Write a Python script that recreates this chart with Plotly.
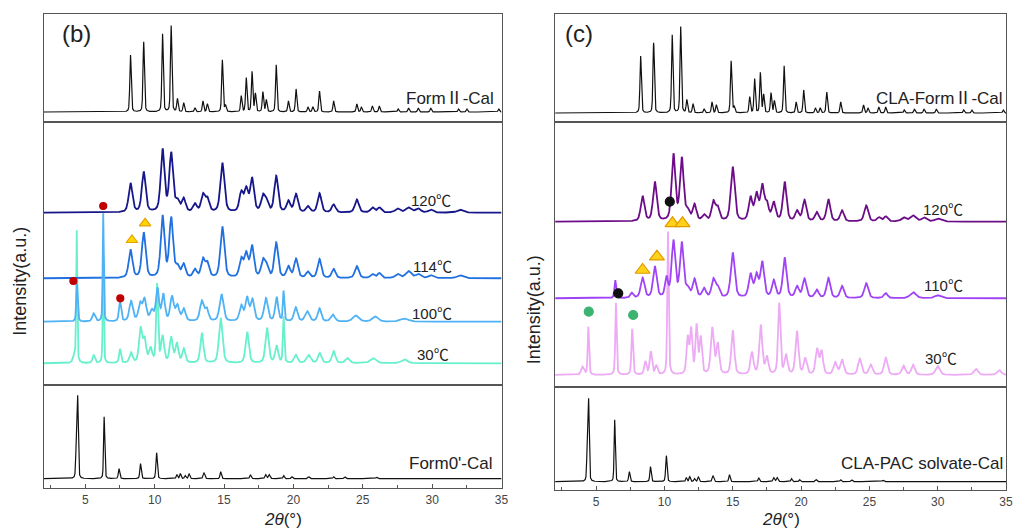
import numpy as np
import plotly.graph_objects as go

W, H = 1016, 529

# ---------------- DATA (2theta in degrees, intensity in a.u.) ----------------
# Calculated Form II pattern: (2theta, height, hwhm)
formII_cal = [
    (8.26, 57, 0.06), (9.21, 70, 0.06), (10.57, 78, 0.06), (11.19, 86, 0.06),
    (11.64, 13, 0.06), (12.09, 9, 0.06), (12.9, 4, 0.06), (13.48, 11, 0.06),
    (13.8, 8, 0.06), (14.88, 52, 0.06), (15.1, 6, 0.06), (16.24, 16, 0.06),
    (16.6, 34, 0.06), (17.02, 40, 0.06), (17.26, 18, 0.06), (17.8, 20, 0.06),
    (18.05, 12, 0.06), (18.76, 47, 0.06), (19.64, 11, 0.06), (20.19, 23, 0.06),
    (21.05, 5, 0.06), (21.4, 5, 0.06), (21.88, 21, 0.06), (22.9, 11, 0.06),
    (24.57, 8, 0.06), (24.9, 5, 0.06), (25.69, 6, 0.06), (26.19, 6, 0.06),
    (27.55, 3, 0.06), (28.3, 4, 0.06), (29.0, 4, 0.06), (29.9, 4, 0.06),
    (31.9, 3, 0.06), (32.5, 3, 0.06), (34.8, 3, 0.06),
]
# Calculated Form0' / CLA-PAC solvate pattern
form0_cal = [
    (4.35, 30, 0.05), (4.45, 80, 0.05), (6.36, 62, 0.05), (7.43, 10, 0.06),
    (8.98, 15, 0.06), (10.14, 26, 0.06), (11.6, 4, 0.06), (11.85, 5, 0.06),
    (12.2, 3, 0.06), (12.48, 5, 0.06), (13.55, 6, 0.07), (14.76, 7, 0.06),
    (16.9, 4, 0.06), (18.0, 4, 0.07), (18.25, 4, 0.07), (19.3, 3, 0.06),
    (19.9, 2, 0.06), (21.1, 2, 0.07), (22.9, 2, 0.06), (23.7, 2, 0.07),
    (26.0, 1.5, 0.07),
]

# Panel (b) experimental patterns
b_120 = [
    (8.26, 29, 0.16), (9.21, 40, 0.16), (10.57, 62, 0.16), (11.19, 58, 0.16),
    (11.64, 10, 0.16), (12.09, 13, 0.16), (12.9, 8, 0.16), (13.48, 17, 0.16),
    (13.8, 13, 0.16), (14.88, 49, 0.17), (16.24, 19, 0.16), (16.6, 22, 0.16),
    (17.02, 33, 0.16), (17.8, 15, 0.16), (18.05, 10, 0.16), (18.76, 36, 0.16),
    (19.64, 11, 0.16), (20.19, 18, 0.16), (21.05, 6, 0.16), (21.88, 19, 0.16),
    (22.9, 8, 0.16), (24.57, 13, 0.17), (25.69, 5, 0.16), (26.19, 5, 0.16),
    (27.5, 4, 0.2), (28.3, 5, 0.25), (29.0, 4, 0.2), (29.9, 3, 0.2), (32.0, 3, 0.25),
]
b_114 = [
    (8.26, 28, 0.16), (9.21, 45, 0.16), (10.57, 61, 0.16), (11.19, 59, 0.16),
    (11.64, 10, 0.16), (12.09, 13, 0.16), (12.9, 8, 0.16), (13.48, 18, 0.16),
    (13.8, 14, 0.16), (14.88, 51, 0.17), (16.24, 18, 0.16), (16.6, 23, 0.16),
    (17.02, 31, 0.16), (17.8, 16, 0.16), (18.05, 11, 0.16), (18.76, 35, 0.16),
    (19.64, 11, 0.16), (20.19, 19, 0.16), (21.05, 6, 0.16), (21.88, 19, 0.16),
    (22.9, 9, 0.16), (24.57, 12, 0.17), (25.69, 4, 0.16), (26.19, 5, 0.16),
    (27.5, 4, 0.2), (28.3, 7, 0.25), (29.0, 4, 0.2), (29.9, 3, 0.2), (32.0, 3, 0.25),
]
b_100 = [
    (4.4, 38, 0.06), (5.6, 8, 0.12), (6.29, 108, 0.045), (7.5, 20, 0.09),
    (8.3, 20, 0.15), (8.95, 17, 0.15), (9.27, 21, 0.15), (9.8, 10, 0.15),
    (10.2, 32, 0.13), (10.62, 26, 0.13), (11.25, 24, 0.15), (11.64, 15, 0.15),
    (12.1, 12, 0.15), (13.4, 20, 0.16), (13.75, 12, 0.15), (14.82, 27, 0.17),
    (16.24, 15, 0.15), (16.66, 23, 0.15), (17.05, 21, 0.15), (18.02, 23, 0.16),
    (18.79, 24, 0.13), (19.29, 30, 0.06), (20.17, 14, 0.15), (21.0, 10, 0.18),
    (21.88, 13, 0.15), (22.84, 7, 0.17), (24.5, 6, 0.25), (25.9, 5, 0.25),
    (28.0, 3, 0.35),
]
b_30 = [
    (4.2, 6, 0.12), (4.38, 132, 0.045), (5.6, 8, 0.1), (6.29, 100, 0.045),
    (7.5, 14, 0.08), (8.3, 10, 0.13), (8.98, 34, 0.13), (9.27, 23, 0.13),
    (9.7, 14, 0.13), (10.17, 78, 0.08), (10.57, 26, 0.13), (11.19, 25, 0.13),
    (11.6, 19, 0.13), (12.1, 14, 0.13), (13.4, 30, 0.13), (14.76, 45, 0.15),
    (16.67, 31, 0.14), (18.1, 35, 0.14), (18.79, 17, 0.13), (19.29, 46, 0.06),
    (20.17, 8, 0.15), (21.1, 8, 0.18), (21.9, 10, 0.15), (22.9, 12, 0.15),
    (23.9, 5, 0.18), (25.76, 5, 0.25), (28.0, 4, 0.25),
]

# Panel (c) experimental patterns
c_120 = [
    (8.4, 25, 0.16), (9.3, 39, 0.16), (10.66, 66, 0.16), (11.27, 62, 0.16),
    (11.7, 9, 0.16), (12.2, 16, 0.16), (12.9, 6, 0.16), (13.58, 19, 0.16),
    (13.9, 13, 0.16), (15.0, 54, 0.17), (16.3, 23, 0.16), (16.74, 26, 0.16),
    (17.16, 34, 0.16), (17.5, 16, 0.16), (18.0, 18, 0.16), (18.8, 39, 0.16),
    (19.71, 10, 0.16), (20.25, 21, 0.16), (21.15, 9, 0.16), (22.0, 22, 0.16),
    (23.0, 11, 0.16), (24.77, 16, 0.17), (25.7, 4, 0.16), (26.2, 5, 0.16),
    (27.5, 4, 0.2), (28.2, 6, 0.25), (29.0, 4, 0.2), (30.0, 3, 0.25),
]
c_110 = [
    (6.4, 18, 0.07), (7.6, 5, 0.12), (8.4, 20, 0.16), (9.3, 31, 0.16),
    (10.15, 19, 0.13), (10.66, 56, 0.16), (11.27, 54, 0.16), (11.7, 8, 0.16),
    (12.2, 18, 0.16), (12.9, 9, 0.16), (13.58, 18, 0.16), (13.9, 10, 0.16),
    (15.0, 45, 0.17), (16.3, 23, 0.16), (16.74, 22, 0.16), (17.16, 35, 0.16),
    (18.0, 17, 0.16), (18.8, 40, 0.16), (19.71, 11, 0.16), (20.25, 19, 0.16),
    (21.15, 8, 0.16), (22.0, 20, 0.16), (23.0, 12, 0.16), (24.77, 15, 0.17),
    (26.2, 5, 0.16), (28.2, 6, 0.25), (30.0, 3, 0.25),
]
c_30 = [
    (4.0, 8, 0.12), (4.43, 48, 0.06), (6.45, 72, 0.06), (7.64, 46, 0.07),
    (8.6, 13, 0.1), (9.0, 23, 0.1), (9.4, 9, 0.1), (10.26, 143, 0.06),
    (11.7, 36, 0.1), (11.95, 44, 0.1), (12.35, 48, 0.1), (12.65, 36, 0.1),
    (13.5, 46, 0.13), (13.9, 30, 0.13), (15.0, 44, 0.13), (16.4, 22, 0.13),
    (17.05, 49, 0.13), (17.5, 17, 0.13), (18.4, 71, 0.1), (18.9, 19, 0.13),
    (19.7, 43, 0.13), (20.3, 16, 0.13), (21.17, 25, 0.13), (21.5, 23, 0.13),
    (22.5, 12, 0.15), (23.0, 15, 0.15), (24.3, 16, 0.15), (25.1, 10, 0.15),
    (26.2, 17, 0.15), (27.5, 9, 0.15), (28.2, 10, 0.15), (30.0, 9, 0.18),
    (32.8, 6, 0.18), (34.5, 5, 0.18),
]

# vertical stacking offsets of experimental patterns
b_offsets = {"30": 21.7, "100": 63.3, "114": 106.7, "120": 172.3}
c_offsets = {"30": 12.0, "110": 88.7, "120": 165.3}

# Marker annotations (2theta, intensity)
b_red_x, b_red_y = [4.14, 6.29, 7.52], [104, 179, 86.7]
b_tri_x, b_tri_y = [8.36, 9.31], [145, 161.7]
c_tri_x, c_tri_y = [8.4, 9.45, 10.59, 11.32], [117, 130.3, 163.7, 163.7]
c_blk_x, c_blk_y = [6.62, 10.39], [93.7, 185.3]
c_grn_x, c_grn_y = [4.46, 7.71], [75.3, 72]

xticks = [5, 10, 15, 20, 25, 30, 35]

# ---------------- BUILD ----------------
x = np.linspace(2, 35, 5000)


def profile(peaks, eta=0.35):
    y = np.zeros_like(x)
    for p, h, w in peaks:
        g = np.exp(-np.log(2) * ((x - p) / w) ** 2)
        lz = 1.0 / (1.0 + ((x - p) / w) ** 2)
        y += h * ((1 - eta) * g + eta * lz)
    return y


def py(pix):  # pixel row -> paper y
    return 1 - pix / H


def px(pix):
    return pix / W


fig = go.Figure()


def line(xa, ya, y, color, width):
    fig.add_trace(go.Scatter(x=x, y=y, mode="lines", xaxis=xa, yaxis=ya,
                             line=dict(color=color, width=width), hoverinfo="skip",
                             showlegend=False))


# panel b
line("x", "y", profile(formII_cal), "#111111", 1.2)
line("x2", "y2", profile(b_30, 0.45) + b_offsets["30"], "#66f0cc", 1.8)
line("x2", "y2", profile(b_114, 0.45) + b_offsets["114"], "#2070e0", 1.8)
line("x2", "y2", profile(b_100, 0.45) + b_offsets["100"], "#4fb2f5", 1.8)
line("x2", "y2", profile(b_120, 0.45) + b_offsets["120"], "#16168a", 1.8)
line("x3", "y3", profile(form0_cal), "#111111", 1.2)
# panel c
line("x4", "y4", profile(formII_cal), "#111111", 1.2)
line("x5", "y5", profile(c_30, 0.45) + c_offsets["30"], "#edaaf5", 1.8)
line("x5", "y5", profile(c_110, 0.45) + c_offsets["110"], "#a042f5", 1.8)
line("x5", "y5", profile(c_120, 0.45) + c_offsets["120"], "#6c0c88", 1.8)
line("x6", "y6", profile(form0_cal), "#111111", 1.2)


def marks(xa, ya, xs, ys, symbol, size, fill, edge):
    fig.add_trace(go.Scatter(x=xs, y=ys, mode="markers", xaxis=xa, yaxis=ya,
                             marker=dict(symbol=symbol, size=size, color=fill,
                                         line=dict(color=edge, width=1.2)),
                             hoverinfo="skip", showlegend=False))


marks("x2", "y2", b_red_x, b_red_y, "circle", 7, "#c00000", "#c00000")
marks("x2", "y2", b_tri_x, b_tri_y, "triangle-up", 10, "#ffd700", "#e8a000")
marks("x5", "y5", c_tri_x, c_tri_y, "triangle-up", 13, "#ffd21a", "#e39a00")
marks("x5", "y5", c_blk_x, c_blk_y, "circle", 9, "#111111", "#111111")
marks("x5", "y5", c_grn_x, c_grn_y, "circle", 9, "#3cb371", "#3cb371")

# ---------------- AXES ----------------
frame = dict(showline=True, mirror=True, linecolor="#555555", linewidth=1.3,
             showgrid=False, zeroline=False)
bx = [px(44), px(505)]
cx = [px(559), px(1013)]
axes = {
    # name: (xdomain, ydomain(pixels top,bottom), yrange, bottom?)
    1: (bx, (14, 122), [-10, 98], False),
    2: (bx, (122, 385), [0, 263], False),
    3: (bx, (385, 488), [-9.3, 93.7], True),
    4: (cx, (14, 122), [-9, 99], False),
    5: (cx, (122, 387), [0, 265], False),
    6: (cx, (387, 490), [-8.3, 94.7], True),
}
layout = {}
for i, (xd, (t, b), yr, bottom) in axes.items():
    s = "" if i == 1 else str(i)
    xa = dict(domain=xd, range=[2, 35], anchor="y" + s, **frame)
    if bottom:
        xa.update(ticks="inside", ticklen=4, tickcolor="#555555", tickvals=xticks,
                  tickfont=dict(family="Arial", size=12, color="#444444"),
                  minor=dict(ticks="inside", ticklen=3, dtick=2.5, tick0=0,
                             tickcolor="#555555"))
    else:
        xa.update(showticklabels=False, ticks="")
    ya = dict(domain=[py(b), py(t)], range=yr, anchor="x" + s,
              showticklabels=False, ticks="", **frame)
    layout["xaxis" + s] = xa
    layout["yaxis" + s] = ya

fig.update_layout(width=W, height=H, margin=dict(l=0, r=0, t=0, b=0),
                  paper_bgcolor="white", plot_bgcolor="white", **layout)

# ---------------- TEXT ----------------
FONT = "Arial, 'Noto Sans CJK SC'"
CJK = "<span style=\"font-family:'Noto Sans CJK SC'\">%s</span>"


def txt(text, xx, yy, size, xref="paper", yref="paper", xanchor="center",
        angle=0, color="#222222"):
    fig.add_annotation(text=text, x=xx, y=yy, xref=xref, yref=yref,
                       xanchor=xanchor, yanchor="middle", showarrow=False,
                       textangle=angle, font=dict(family=FONT, size=size, color=color))


txt("(b)", px(77), py(34), 24)
txt("(c)", px(583), py(34), 24)
txt("Form" + CJK % "Ⅱ" + "-Cal", px(499), py(97), 17, xanchor="right")
txt("CLA-Form" + CJK % "Ⅱ" + "-Cal", px(1012), py(97), 17, xanchor="right")
txt("Form0'-Cal", px(498), py(463), 17, xanchor="right")
txt("CLA-PAC solvate-Cal", px(1012), py(463), 17, xanchor="right")
txt("Intensity(a.u.)", px(20), py(281), 18, angle=-90)
txt("Intensity(a.u.)", px(538), py(310), 18, angle=-90)
txt("<i>2θ</i>(°)", px(285), py(519), 17)
txt("<i>2θ</i>(°)", px(786), py(519), 17)

for lab, xx, yy in [("120", 29.9, 186), ("114", 30.0, 120), ("100", 30.0, 73), ("30", 30.05, 32)]:
    txt(lab + CJK % "℃", xx, yy, 15, xref="x2", yref="y2")
for lab, xx, yy in [("120", 30.36, 179), ("110", 30.4, 103), ("30", 30.25, 30)]:
    txt(lab + CJK % "℃", xx, yy, 15, xref="x5", yref="y5")

fig.write_html("out.html")
